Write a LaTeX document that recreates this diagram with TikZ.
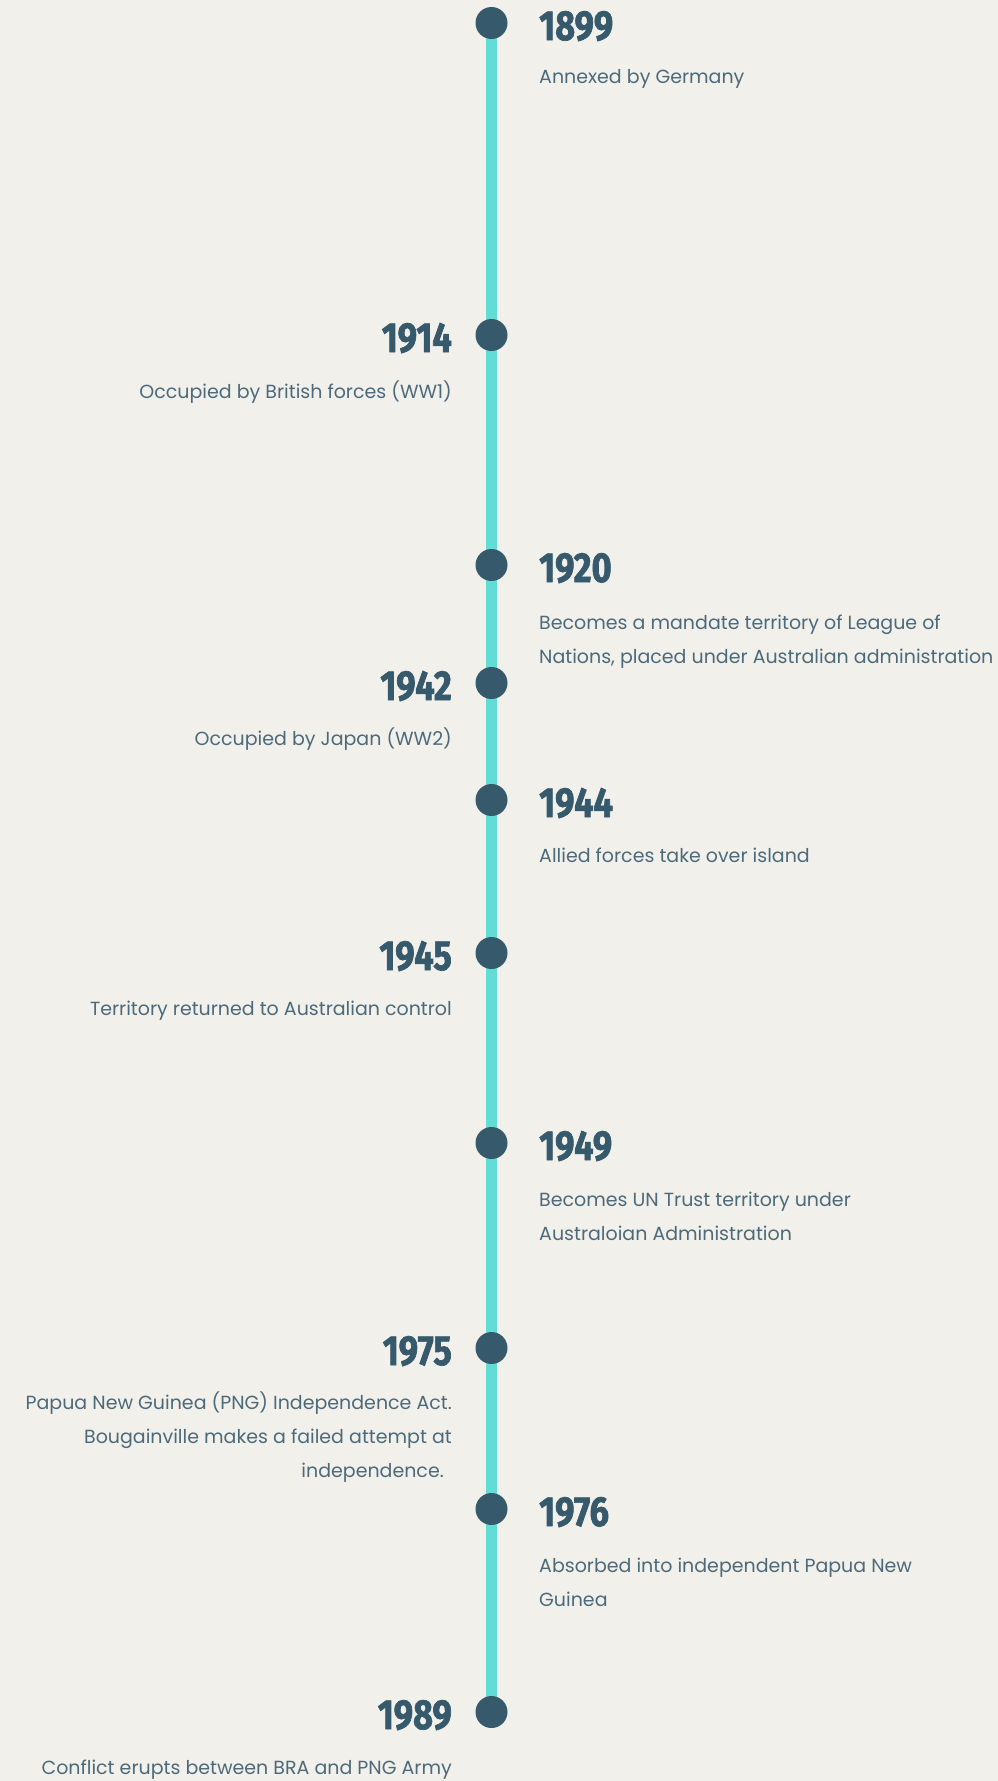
\documentclass[tikz,border=0pt]{standalone}
\usepackage{fontspec}
\setmainfont{Poppins}
\newfontfamily\yearfont{Fira Sans}[FakeStretch=0.82,FakeBold=1.6]
\newfontfamily\bodyfont{Poppins}
\usetikzlibrary{backgrounds}
\definecolor{bg}{HTML}{F2F0EB}
\definecolor{teal}{HTML}{62DDD5}
\definecolor{navy}{HTML}{365A6C}
\definecolor{bodyc}{HTML}{4D6A7A}
\tikzset{
  dot/.style={circle, fill=navy, minimum size=32pt, inner sep=0pt},
  yearR/.style={anchor=base west, inner sep=0pt, text=navy, font=\yearfont\bfseries\fontsize{42}{42}\selectfont},
  yearL/.style={anchor=base east, inner sep=0pt, text=navy, font=\yearfont\bfseries\fontsize{42}{42}\selectfont},
  descR/.style={anchor=base west, inner sep=0pt, text=bodyc, align=left, font=\bodyfont\fontsize{19}{34}\selectfont},
  descL/.style={anchor=base east, inner sep=0pt, text=bodyc, align=right, font=\bodyfont\fontsize{19}{34}\selectfont},
  tline/.style={draw=teal, line width=11pt}
}
\begin{document}
\begin{tikzpicture}[x=1pt,y=1pt]
\useasboundingbox (0,0) rectangle (998,-1781);
% dots
\node[dot] (d1899) at (491.5,-23) {};
\node[dot] (d1914) at (491.5,-335) {};
\node[dot] (d1920) at (491.5,-565) {};
\node[dot] (d1942) at (491.5,-683) {};
\node[dot] (d1944) at (491.5,-800) {};
\node[dot] (d1945) at (491.5,-953) {};
\node[dot] (d1949) at (491.5,-1143) {};
\node[dot] (d1975) at (491.5,-1348) {};
\node[dot] (d1976) at (491.5,-1509) {};
\node[dot] (d1989) at (491.5,-1712) {};
\begin{pgfonlayer}{background}
\fill[bg] (0,0) rectangle (998,-1781);
\draw[tline] (d1899.center) -- (d1989.center);
\end{pgfonlayer}
% years and descriptions (base anchor = last line of a multi-line text)
\node[yearR] (y1899) at (539,-40) {1899};
\node[descR] (t1899) at (539,-83) {Annexed by Germany};
\node[yearL] (y1914) at (452,-352) {1914};
\node[descL] (t1914) at (452,-398) {Occupied by British forces (WW1)};
\node[yearR] (y1920) at (539,-582) {1920};
\node[descR] (t1920) at (539,-663) {Becomes a mandate territory of League of\\Nations, placed under Australian administration};
\node[yearL] (y1942) at (452,-700) {1942};
\node[descL] (t1942) at (452,-745) {Occupied by Japan (WW2)};
\node[yearR] (y1944) at (539,-817) {1944};
\node[descR] (t1944) at (539,-862) {Allied forces take over island};
\node[yearL] (y1945) at (452,-970) {1945};
\node[descL] (t1945) at (452,-1015) {Territory returned to Australian control};
\node[yearR] (y1949) at (539,-1160) {1949};
\node[descR] (t1949) at (539,-1240) {Becomes UN Trust territory under\\Australoian Administration};
\node[yearL] (y1975) at (452,-1365) {1975};
\node[descL] (t1975) at (452,-1477) {Papua New Guinea (PNG) Independence Act.\\Bougainville makes a failed attempt at\\independence.\hspace*{8pt}};
\node[yearR] (y1976) at (539,-1526) {1976};
\node[descR] (t1976) at (539,-1606) {Absorbed into independent Papua New\\Guinea};
\node[yearL] (y1989) at (452,-1729) {1989};
\node[descL] (t1989) at (452,-1774) {Conflict erupts between BRA and PNG Army};
\end{tikzpicture}
\end{document}
